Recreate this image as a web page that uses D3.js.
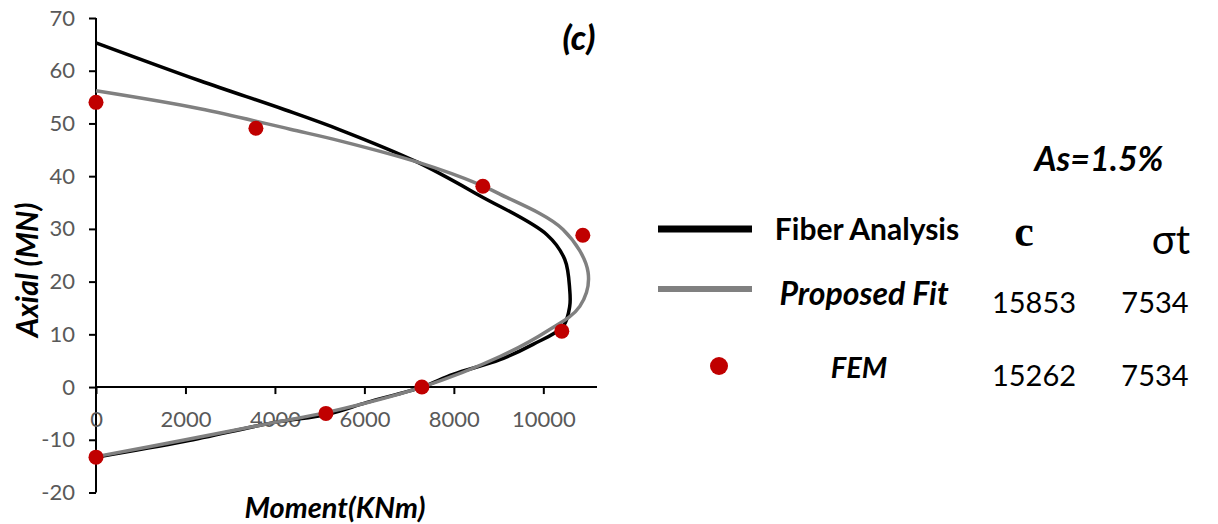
<!DOCTYPE html>
<html>
<head>
<meta charset="utf-8">
<script src="https://cdn.jsdelivr.net/npm/d3@7"></script>
<style>
  body { margin: 0; background: #fff; }
  text { font-family: Lato, "Open Sans", sans-serif; }
</style>
</head>
<body>
<div id="chart"></div>
<script>
// Fiber analysis curve (moment kNm, axial MN)
var fiberM = [0, 2324, 4220, 5453, 7173, 8581, 10080, 10480, 10590, 10590, 10440, 9770, 9030, 7980, 7285, 6060, 5160, 4000, 1990, 0];
var fiberP = [65.3, 58.1, 52.6, 48.8, 42.7, 36.3, 28.9, 24.2, 18.5, 15.3, 11.5, 8.1, 5.2, 2.4, 0, -2.9, -5.2, -6.7, -10.3, -13.3];
// proposed fit curve
var fitM = [0, 2324, 4340, 5453, 7173, 8581, 9028, 10440, 11000, 10815, 10080, 9030, 7285, 5160, 4000, 2000, 0];
var fitP = [56.2, 52.8, 48.9, 46.7, 42.7, 38.4, 36.6, 29.9, 21.8, 15.3, 10.6, 5.8, 0, -4.8, -6.7, -10.0, -13.2];
// FEM points
var femM = [0, 3575, 8648, 10883, 10413, 7285, 5140, 0];
var femP = [54.0, 49.1, 38.1, 28.8, 10.6, 0, -5.0, -13.3];

var xTicks = [0, 2000, 4000, 6000, 8000, 10000];
var yTicks = [-20, -10, 0, 10, 20, 30, 40, 50, 60, 70];

var legendNames = ["Fiber Analysis", "Proposed Fit", "FEM"];
var cValues = ["15853", "15262"];
var stValues = ["7534", "7534"];

var width = 1218, height = 524;
var svg = d3.select("#chart").append("svg")
	.attr("width", width)
	.attr("height", height);

var x = d3.scaleLinear().domain([0, 11200]).range([96, 597]);
var y = d3.scaleLinear().domain([-20, 70]).range([492.5, 18]);

// y axis
var yAxis = svg.append("g")
	.attr("transform", "translate(" + x(0) + ",0)")
	.call(d3.axisLeft(y).tickValues(yTicks).tickSize(7).tickPadding(14).tickFormat(function(d){ return String(d); }));
yAxis.select(".domain").attr("stroke", "#000").attr("stroke-width", 2).attr("d", "M0," + y(70) + "V" + y(-20));
yAxis.selectAll(".tick line").attr("stroke", "#000").attr("stroke-width", 2);
yAxis.selectAll(".tick text").attr("fill", "#595959").attr("font-size", 22).attr("font-family", "Lato, sans-serif");

// x axis on y = 0
var xAxis = svg.append("g")
	.attr("transform", "translate(0," + y(0) + ")")
	.call(d3.axisBottom(x).tickValues(xTicks).tickSize(7).tickPadding(17).tickFormat(function(d){ return String(d); }));
xAxis.select(".domain").attr("stroke", "#000").attr("stroke-width", 2).attr("d", "M" + x(0) + ",0H" + x(11200));
xAxis.selectAll(".tick line").attr("stroke", "#000").attr("stroke-width", 2);
xAxis.selectAll(".tick text").attr("fill", "#595959").attr("font-size", 22).attr("font-family", "Lato, sans-serif");

var line = d3.line()
	.x(function(d){ return x(d[0]); })
	.y(function(d){ return y(d[1]); })
	.curve(d3.curveCatmullRom.alpha(0.5));

svg.append("path")
	.datum(d3.zip(fiberM, fiberP))
	.attr("d", line)
	.attr("fill", "none")
	.attr("stroke", "#000")
	.attr("stroke-width", 3.5);

svg.append("path")
	.datum(d3.zip(fitM, fitP))
	.attr("d", line)
	.attr("fill", "none")
	.attr("stroke", "#808080")
	.attr("stroke-width", 3.5);

svg.selectAll(".fem")
	.data(d3.zip(femM, femP))
	.enter().append("circle")
	.attr("cx", function(d){ return x(d[0]); })
	.attr("cy", function(d){ return y(d[1]); })
	.attr("r", 7.5)
	.attr("fill", "#c00000");

// axis titles
svg.append("text")
	.attr("transform", "translate(38,270) rotate(-90)")
	.attr("text-anchor", "middle")
	.attr("font-size", 30)
	.attr("font-weight", "bold")
	.attr("font-style", "italic")
	.text("Axial (MN)");

svg.append("text")
	.attr("x", 335)
	.attr("y", 518)
	.attr("text-anchor", "middle")
	.attr("font-size", 29)
	.attr("font-weight", "bold")
	.attr("font-style", "italic")
	.text("Moment(KNm)");

svg.append("text")
	.attr("x", 579)
	.attr("y", 50)
	.attr("text-anchor", "middle")
	.attr("font-size", 34)
	.attr("font-weight", "900")
	.attr("font-style", "italic")
	.text("(c)");

// legend
svg.append("text")
	.attr("x", 1099)
	.attr("y", 171)
	.attr("text-anchor", "middle")
	.attr("font-size", 34)
	.attr("font-weight", "bold")
	.attr("font-style", "italic")
	.text("As=1.5%");

svg.append("line")
	.attr("x1", 658).attr("x2", 752).attr("y1", 229).attr("y2", 229)
	.attr("stroke", "#000").attr("stroke-width", 7);
svg.append("line")
	.attr("x1", 658).attr("x2", 752).attr("y1", 289).attr("y2", 289)
	.attr("stroke", "#808080").attr("stroke-width", 6);
svg.append("circle")
	.attr("cx", 719).attr("cy", 366).attr("r", 9)
	.attr("fill", "#c00000");

var legY = [240, 305, 378];
var legX = [867, 864, 859];
var legSize = [30, 32, 29];
legendNames.forEach(function(name, i){
	svg.append("text")
		.attr("x", legX[i])
		.attr("y", legY[i])
		.attr("text-anchor", "middle")
		.attr("font-size", legSize[i])
		.attr("font-weight", "bold")
		.attr("font-style", i == 0 ? "normal" : "italic")
		.text(name);
});

svg.append("text")
	.attr("x", 1024)
	.attr("y", 246)
	.attr("text-anchor", "middle")
	.attr("font-size", 44)
	.attr("font-weight", "bold")
	.style("font-family", "'Liberation Serif', serif")
	.text("c");

svg.append("text")
	.attr("x", 1171)
	.attr("y", 254)
	.attr("text-anchor", "middle")
	.attr("font-size", 40)
	.text("σt");

cValues.forEach(function(v, i){
	svg.append("text")
		.attr("x", 1034)
		.attr("y", legY[i + 1] + 8)
		.attr("text-anchor", "middle")
		.attr("font-size", 29)
		.text(v);
	svg.append("text")
		.attr("x", 1155)
		.attr("y", legY[i + 1] + 8)
		.attr("text-anchor", "middle")
		.attr("font-size", 29)
		.text(stValues[i]);
});
</script>
</body>
</html>
